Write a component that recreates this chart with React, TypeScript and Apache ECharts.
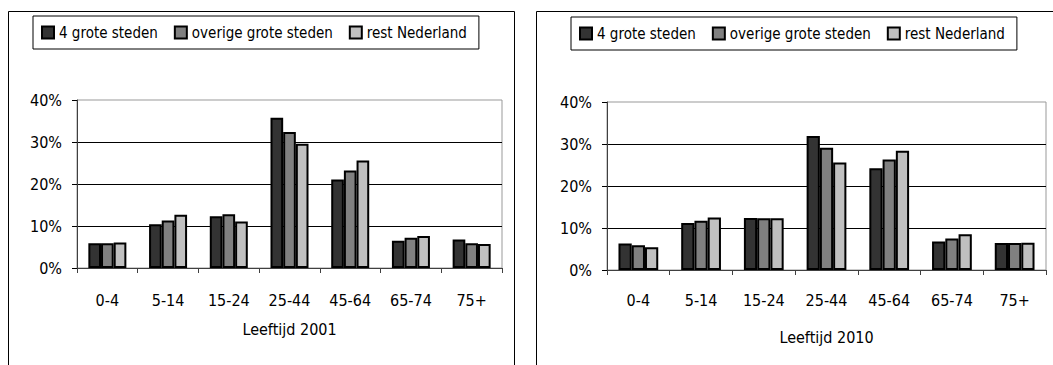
import React, { useEffect, useRef } from "react";
import * as echarts from "echarts";

const categories = ["0-4", "5-14", "15-24", "25-44", "45-64", "65-74", "75+"];
const seriesNames = ["4 grote steden", "overige grote steden", "rest Nederland"];
const yTicks = [0, 10, 20, 30, 40];

const grote4_2001 = [5.9, 10.4, 12.3, 35.8, 21.1, 6.5, 6.8];
const overige_2001 = [5.9, 11.3, 12.8, 32.4, 23.2, 7.2, 5.9];
const rest_2001 = [6.1, 12.7, 11.1, 29.6, 25.6, 7.6, 5.7];

const grote4_2010 = [6.3, 11.2, 12.4, 31.9, 24.2, 6.8, 6.4];
const overige_2010 = [5.9, 11.7, 12.3, 29.1, 26.3, 7.5, 6.4];
const rest_2010 = [5.4, 12.5, 12.3, 25.6, 28.4, 8.5, 6.5];

const axisTitles = ["Leeftijd 2001", "Leeftijd 2010"];

const FONT = "'DejaVu Sans Condensed', 'DejaVu Sans', sans-serif";
const FS = 16;
const LFS = 15;
const fills = ["#333333", "#808080", "#C0C0C0"];

export default function App() {
  const ref = useRef<HTMLDivElement>(null);
  useEffect(() => {
    if (!ref.current) return;
    const chart = echarts.init(ref.current, undefined, { renderer: "svg" });
    const panels = [
      { data: [grote4_2001, overige_2001, rest_2001], grid: { left: 77, top: 100, width: 425, height: 168 }, margin: 24, gap: 53, gapCat: "37.4%" },
      { data: [grote4_2010, overige_2010, rest_2010], grid: { left: 607, top: 102, width: 439, height: 168 }, margin: 22, gap: 59, gapCat: "36.6%" },
    ];
    const series: any[] = [];
    panels.forEach((p, pi) => {
      p.data.forEach((vals, si) => {
        series.push({
          type: "bar",
          name: seriesNames[si],
          xAxisIndex: pi,
          yAxisIndex: pi,
          data: vals,
          barGap: "0%",
          barCategoryGap: p.gapCat,
          itemStyle: { color: fills[si], borderColor: "#000", borderWidth: 2 },
        });
      });
    });
    const legendBase = {
      data: seriesNames,
      orient: "horizontal",
      icon: "rect",
      itemWidth: 12,
      itemHeight: 12,
      itemGap: 16,
      borderColor: "#000",
      borderWidth: 1,
      padding: [9, 12, 9, 8],
      selectedMode: false,
      textStyle: { fontFamily: FONT, fontSize: LFS, color: "#000" },
    };
    chart.setOption({
      animation: false,
      backgroundColor: "#fff",
      legend: [
        { ...legendBase, left: 33, top: 16 },
        { ...legendBase, left: 571, top: 17 },
      ],
      grid: panels.map((p) => ({ ...p.grid, show: true, borderColor: "#999", borderWidth: 1, backgroundColor: "transparent" })),
      xAxis: panels.map((p, pi) => ({
        type: "category",
        gridIndex: pi,
        data: categories,
        name: axisTitles[pi],
        nameLocation: "middle",
        nameGap: p.gap,
        nameTextStyle: { fontFamily: FONT, fontSize: FS, color: "#000" },
        axisLine: { lineStyle: { color: "#404040", width: 1 } },
        axisTick: { show: true, alignWithLabel: false, length: 5, lineStyle: { color: "#404040" } },
        axisLabel: { fontFamily: FONT, fontSize: FS, color: "#000", margin: p.margin, interval: 0 },
        splitLine: { show: false },
      })),
      yAxis: panels.map((p, pi) => ({
        type: "value",
        gridIndex: pi,
        min: yTicks[0],
        max: yTicks[yTicks.length - 1],
        interval: 10,
        axisLine: { show: true, lineStyle: { color: "#404040", width: 1 } },
        axisTick: { show: true, length: 5, lineStyle: { color: "#000" } },
        axisLabel: { fontFamily: FONT, fontSize: FS, color: "#000", margin: 15, formatter: "{value}%" },
        splitLine: { show: true, showMaxLine: false, lineStyle: { color: "#000", width: 1 } },
      })),
      graphic: [
        { type: "rect", shape: { x: 8.5, y: 11.5, width: 506, height: 400 }, style: { fill: "none", stroke: "#000", lineWidth: 1 }, z: 0, silent: true },
        { type: "rect", shape: { x: 536.5, y: 11.5, width: 600, height: 400 }, style: { fill: "none", stroke: "#000", lineWidth: 1 }, z: 0, silent: true },
      ],
      series,
    });
    return () => chart.dispose();
  }, []);
  return <div ref={ref} style={{ position: "absolute", left: 0, top: 0, width: 1053, height: 365 }} />;
}
